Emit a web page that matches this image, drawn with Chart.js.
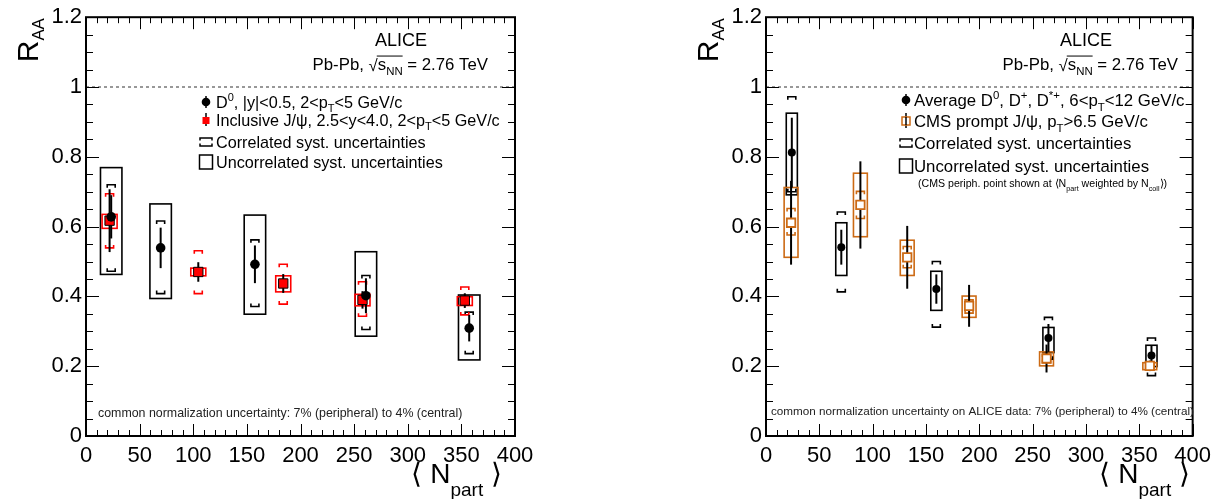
<!DOCTYPE html>
<html>
<head>
<meta charset="utf-8">
<script src="https://cdn.jsdelivr.net/npm/chart.js@4.4.1/dist/chart.umd.min.js"></script>
<style>
  html, body { margin: 0; padding: 0; background: #fff; }
  #wrap { position: relative; width: 1218px; height: 499px; }
  canvas { position: absolute; top: 0; }
  #left { left: 0; }
  #right { left: 609px; }
</style>
</head>
<body>
<div id="wrap">
  <canvas id="left" width="609" height="499"></canvas>
  <canvas id="right" width="609" height="499"></canvas>
</div>
<script>
const FONT = '"Liberation Sans", Arial, Helvetica, sans-serif';
const ORANGE = '#cc6a14';

// axis ticks (both panels)
const xTickValues = [0, 50, 100, 150, 200, 250, 300, 350, 400];
const yTickValues = [0, 0.2, 0.4, 0.6, 0.8, 1, 1.2];

// left panel: ALICE D0, 2<pT<5 GeV/c
const d0Npart = [23.5, 69.6, 157.5, 261, 357.3];
const d0Raa = [0.628, 0.539, 0.492, 0.402, 0.309];
const d0Stat = [0.062, 0.058, 0.054, 0.05, 0.038];
const d0UncLo = [0.463, 0.394, 0.349, 0.286, 0.218];
const d0UncHi = [0.769, 0.665, 0.633, 0.528, 0.404];
const d0CorLo = [0.472, 0.408, 0.371, 0.305, 0.236];
const d0CorHi = [0.72, 0.616, 0.562, 0.46, 0.355];

// left panel: ALICE inclusive J/psi, 2.5<y<4
const jpsiNpart = [22, 104.7, 183.9, 257.8, 353.2];
const jpsiRaa = [0.617, 0.47, 0.437, 0.39, 0.388];
const jpsiStat = [0.09, 0.028, 0.027, 0.025, 0.021];
const jpsiUncLo = [0.595, 0.459, 0.413, 0.373, 0.374];
const jpsiUncHi = [0.635, 0.481, 0.459, 0.406, 0.399];
const jpsiCorLo = [0.539, 0.408, 0.378, 0.343, 0.347];
const jpsiCorHi = [0.694, 0.531, 0.492, 0.442, 0.427];

// right panel: ALICE average D, 6<pT<12 GeV/c
const dAvgNpart = [24.2, 70.6, 159.7, 264.8, 361.4];
const dAvgRaa = [0.812, 0.541, 0.421, 0.281, 0.231];
const dAvgStat = [0.1, 0.05, 0.042, 0.04, 0.027];
const dAvgUncLo = [0.691, 0.46, 0.36, 0.239, 0.199];
const dAvgUncHi = [0.925, 0.611, 0.472, 0.311, 0.26];
const dAvgCorLo = [0.7, 0.413, 0.312, 0.22, 0.173];
const dAvgCorHi = [0.972, 0.642, 0.5, 0.34, 0.281];

// right panel: CMS prompt J/psi, pT>6.5 GeV/c
const cmsNpart = [23.5, 88.5, 132.4, 190.4, 263, 359.8];
const cmsRaa = [0.611, 0.662, 0.512, 0.373, 0.222, 0.201];
const cmsStat = [0.12, 0.125, 0.09, 0.06, 0.04, 0.015];
const cmsUncLo = [0.512, 0.571, 0.46, 0.34, 0.201, 0.19];
const cmsUncHi = [0.712, 0.753, 0.561, 0.401, 0.241, 0.21];
const cmsCorLo = [0.576, 0.623, 0.482, 0.352, 0.21, 0.195];
const cmsCorHi = [0.652, 0.701, 0.543, 0.39, 0.235, 0.207];

function richWidth(ctx, parts, size, ratio) {
  let w = 0;
  for (const [t, m] of parts) {
    ctx.font = (m ? size * (ratio || 0.68) : size) + 'px ' + FONT;
    w += ctx.measureText(t).width;
  }
  return w;
}

// parts: [text, 'sup' | 'sub' | undefined]
function drawRich(ctx, parts, x, y, size, align, subDrop, ratio) {
  ratio = ratio || 0.68;
  const w = richWidth(ctx, parts, size, ratio);
  let cx = align === 'right' ? x - w : align === 'center' ? x - w / 2 : x;
  ctx.textAlign = 'left';
  ctx.textBaseline = 'alphabetic';
  for (const [t, m] of parts) {
    const s = m ? size * ratio : size;
    ctx.font = s + 'px ' + FONT;
    const dy = m === 'sup' ? -size * 0.4 : m === 'sub' ? size * (subDrop || 0.3) : 0;
    ctx.fillText(t, cx, y + dy);
    cx += ctx.measureText(t).width;
  }
  return w;
}

function drawSqrtS(ctx, x, y, size, align) {
  // Pb-Pb, sqrt(s_NN) = 2.76 TeV with a radical bar over s_NN
  const pre = [['Pb-Pb, ']], rad = [['\u221A']], under = [['s'], ['NN', 'sub']], post = [[' = 2.76 TeV']];
  const total = [pre, rad, under, post].reduce((a, p) => a + richWidth(ctx, p, size), 0);
  let cx = align === 'right' ? x - total : x;
  ctx.fillStyle = '#000';
  cx += drawRich(ctx, pre, cx, y, size);
  cx += drawRich(ctx, rad, cx, y + 1, size);
  const x0 = cx;
  cx += drawRich(ctx, under, cx, y, size);
  ctx.strokeStyle = '#000';
  ctx.lineWidth = 1;
  ctx.beginPath();
  ctx.moveTo(x0 - 1, y - size * 0.83);
  ctx.lineTo(cx, y - size * 0.83);
  ctx.stroke();
  drawRich(ctx, post, cx, y, size);
}

function bracket(ctx, x, yTop, yBot, half, tick) {
  ctx.beginPath();
  ctx.moveTo(x - half, yTop + tick); ctx.lineTo(x - half, yTop); ctx.lineTo(x + half, yTop); ctx.lineTo(x + half, yTop + tick);
  ctx.moveTo(x - half, yBot - tick); ctx.lineTo(x - half, yBot); ctx.lineTo(x + half, yBot); ctx.lineTo(x + half, yBot - tick);
  ctx.stroke();
}

function decorPlugin(series, panel) {
  return {
    id: 'decor',
    beforeDatasetsDraw(chart) {
      const { ctx, chartArea: a, scales: { x, y } } = chart;
      ctx.save();
      // dashed line at R_AA = 1
      ctx.strokeStyle = '#333';
      ctx.lineWidth = 1;
      ctx.setLineDash([3, 3]);
      ctx.beginPath();
      ctx.moveTo(a.left, y.getPixelForValue(1));
      ctx.lineTo(a.right, y.getPixelForValue(1));
      ctx.stroke();
      ctx.setLineDash([]);
      // uncorrelated boxes
      for (const s of series) {
        ctx.strokeStyle = s.boxColor;
        ctx.lineWidth = 1.6;
        s.x.forEach((n, i) => {
          const l = x.getPixelForValue(n - s.boxHalf), r = x.getPixelForValue(n + s.boxHalf);
          const t = y.getPixelForValue(s.uncHi[i]), b = y.getPixelForValue(s.uncLo[i]);
          ctx.strokeRect(l, t, r - l, b - t);
        });
      }
      // correlated brackets
      for (const s of series) {
        ctx.strokeStyle = s.corColor;
        ctx.lineWidth = 1.6;
        s.x.forEach((n, i) => {
          bracket(ctx, x.getPixelForValue(n), y.getPixelForValue(s.corHi[i]), y.getPixelForValue(s.corLo[i]), 4, 3);
        });
      }
      // statistical error bars
      ctx.strokeStyle = '#000';
      ctx.lineWidth = 2;
      for (const s of series) {
        s.x.forEach((n, i) => {
          const px = x.getPixelForValue(n);
          ctx.beginPath();
          ctx.moveTo(px, y.getPixelForValue(s.y[i] + s.stat[i]));
          ctx.lineTo(px, y.getPixelForValue(s.y[i] - s.stat[i]));
          ctx.stroke();
        });
      }
      ctx.restore();
    },
    afterDraw(chart) {
      const { ctx, chartArea: a, scales: { x, y } } = chart;
      ctx.save();
      // frame and inward ticks (ROOT style)
      ctx.strokeStyle = '#000';
      ctx.lineWidth = 1;
      ctx.beginPath();
      for (let v = 0; v <= 1.2001; v += 0.05) {
        const major = Math.abs(v / 0.2 - Math.round(v / 0.2)) < 1e-6;
        const len = major ? 13 : 7;
        const py = Math.round(y.getPixelForValue(v)) + 0.5;
        ctx.moveTo(a.left, py); ctx.lineTo(a.left + len, py);
        ctx.moveTo(a.right, py); ctx.lineTo(a.right - len, py);
      }
      for (let v = 0; v <= 400.01; v += 10) {
        const len = v % 50 === 0 ? 12 : 6;
        const px = Math.round(x.getPixelForValue(v)) + 0.5;
        ctx.moveTo(px, a.bottom); ctx.lineTo(px, a.bottom - len);
        ctx.moveTo(px, a.top); ctx.lineTo(px, a.top + len);
      }
      ctx.stroke();
      ctx.lineWidth = 2;
      ctx.strokeRect(a.left, a.top, a.right - a.left, a.bottom - a.top);

      ctx.fillStyle = '#000';
      // axis titles
      drawRich(ctx, [['\u27E8 '], ['N'], ['part', 'sub'], [' \u27E9']], panel.xTitleRight, 483, 28, 'right', 0.48);
      ctx.save();
      ctx.translate(panel.yTitleX, a.top + 1);
      ctx.rotate(-Math.PI / 2);
      drawRich(ctx, [['R'], ['AA', 'sub']], 0, 0, 30, 'right', 0.2, 0.56);
      ctx.restore();

      // ALICE header
      ctx.font = '18px ' + FONT;
      ctx.textAlign = 'center';
      ctx.fillText('ALICE', panel.aliceX, 46);
      drawSqrtS(ctx, panel.energyRight, 70, 16.8, 'right');

      // legend
      const L = panel.legend;
      L.entries.forEach((e, i) => {
        const cy = L.rows[i];
        drawLegendIcon(ctx, e.icon, L.iconX, cy);
        ctx.fillStyle = '#000';
        drawRich(ctx, e.text, L.textX, cy + 5.5, L.size, 'left');
      });
      if (L.note) drawRich(ctx, L.note.text, L.note.x, L.note.y, L.note.size, 'left', 0.35);

      // normalisation note
      ctx.fillStyle = '#222';
      ctx.font = panel.norm.size + 'px ' + FONT;
      ctx.textAlign = 'left';
      ctx.fillText(panel.norm.text, panel.norm.x, panel.norm.y);
      ctx.restore();
    },
  };
}

function drawLegendIcon(ctx, icon, cx, cy) {
  ctx.save();
  ctx.lineWidth = 1.5;
  ctx.strokeStyle = '#000';
  if (icon === 'circle') {
    ctx.beginPath(); ctx.moveTo(cx, cy - 6); ctx.lineTo(cx, cy + 6); ctx.stroke();
    ctx.fillStyle = '#000';
    ctx.beginPath(); ctx.arc(cx, cy, 4.3, 0, Math.PI * 2); ctx.fill();
  } else if (icon === 'redsquare') {
    ctx.beginPath(); ctx.moveTo(cx, cy - 7); ctx.lineTo(cx, cy + 6); ctx.stroke();
    ctx.fillStyle = '#f00';
    ctx.fillRect(cx - 3.5, cy - 3, 7, 7);
  } else if (icon === 'opensquare') {
    ctx.beginPath(); ctx.moveTo(cx, cy - 8); ctx.lineTo(cx, cy + 7); ctx.stroke();
    ctx.fillStyle = '#fff';
    ctx.strokeStyle = ORANGE;
    ctx.fillRect(cx - 4, cy - 4, 8, 8);
    ctx.strokeRect(cx - 4, cy - 4, 8, 8);
    ctx.strokeStyle = '#000';
    ctx.beginPath(); ctx.moveTo(cx, cy - 4); ctx.lineTo(cx, cy + 4); ctx.stroke();
  } else if (icon === 'bracket') {
    bracket(ctx, cx, cy - 4, cy + 4, 6, 2.5);
  } else if (icon === 'box') {
    ctx.strokeRect(cx - 6.5, cy - 7, 13, 14);
  }
  ctx.restore();
}

function makePanel(canvasId, datasets, series, panel) {
  return new Chart(document.getElementById(canvasId), {
    type: 'scatter',
    data: { datasets },
    options: {
      responsive: false,
      animation: false,
      events: [],
      layout: { autoPadding: false, padding: { left: 0, right: panel.padRight, top: 12, bottom: 0 } },
      plugins: { legend: { display: false }, tooltip: { enabled: false } },
      scales: {
        x: {
          type: 'linear', min: 0, max: 400,
          afterBuildTicks: s => { s.ticks = xTickValues.map(v => ({ value: v })); },
          afterFit: s => { s.height = 63; },
          grid: { display: false, drawTicks: false },
          border: { display: false },
          ticks: { padding: 7, color: '#000', font: { family: FONT, size: 22 }, maxRotation: 0, autoSkip: false },
        },
        y: {
          type: 'linear', min: 0, max: 1.2,
          afterBuildTicks: s => { s.ticks = yTickValues.map(v => ({ value: v })); },
          afterFit: s => { s.width = panel.axisLeft; },
          grid: { display: false, drawTicks: false },
          border: { display: false },
          ticks: { padding: 4, color: '#000', font: { family: FONT, size: 22 }, autoSkip: false,
                   callback: v => String(Math.round(v * 10) / 10) },
        },
      },
    },
    plugins: [decorPlugin(series, panel)],
  });
}

const pts = (xs, ys) => xs.map((v, i) => ({ x: v, y: ys[i] }));

makePanel('left', [
  { label: 'D0', data: pts(d0Npart, d0Raa), pointStyle: 'circle', pointRadius: 4.8, backgroundColor: '#000', borderWidth: 0 },
  { label: 'J/psi', data: pts(jpsiNpart, jpsiRaa), pointStyle: 'rect', pointRadius: 6.6, backgroundColor: '#f00', borderColor: '#000', borderWidth: 1 },
], [
  { x: d0Npart, y: d0Raa, stat: d0Stat, uncLo: d0UncLo, uncHi: d0UncHi, corLo: d0CorLo, corHi: d0CorHi, boxHalf: 10, boxColor: '#000', corColor: '#000' },
  { x: jpsiNpart, y: jpsiRaa, stat: jpsiStat, uncLo: jpsiUncLo, uncHi: jpsiUncHi, corLo: jpsiCorLo, corHi: jpsiCorHi, boxHalf: 7, boxColor: '#f00', corColor: '#f00' },
], {
  axisLeft: 86, padRight: 94, yTitleX: 38, xTitleRight: 502, aliceX: 401, energyRight: 488,
  legend: {
    iconX: 206, textX: 216, size: 16.2, rows: [102, 120, 142, 162],
    entries: [
      { icon: 'circle', text: [['D'], ['0', 'sup'], [', |y|<0.5, 2<p'], ['T', 'sub'], ['<5 GeV/c']] },
      { icon: 'redsquare', text: [['Inclusive J/\u03C8, 2.5<y<4.0, 2<p'], ['T', 'sub'], ['<5 GeV/c']] },
      { icon: 'bracket', text: [['Correlated syst. uncertainties']] },
      { icon: 'box', text: [['Uncorrelated syst. uncertainties']] },
    ],
  },
  norm: { text: 'common normalization uncertainty: 7% (peripheral) to 4% (central)', x: 98, y: 417, size: 12.4 },
});

makePanel('right', [
  { label: 'D avg', data: pts(dAvgNpart, dAvgRaa), pointStyle: 'circle', pointRadius: 4, backgroundColor: '#000', borderWidth: 0 },
  { label: 'CMS J/psi', data: pts(cmsNpart, cmsRaa), pointStyle: 'rect', pointRadius: 6, backgroundColor: '#fff', borderColor: ORANGE, borderWidth: 1.8 },
], [
  { x: dAvgNpart, y: dAvgRaa, stat: dAvgStat, uncLo: dAvgUncLo, uncHi: dAvgUncHi, corLo: dAvgCorLo, corHi: dAvgCorHi, boxHalf: 5.2, boxColor: '#000', corColor: '#000' },
  { x: cmsNpart, y: cmsRaa, stat: cmsStat, uncLo: cmsUncLo, uncHi: cmsUncHi, corLo: cmsCorLo, corHi: cmsCorHi, boxHalf: 6.5, boxColor: ORANGE, corColor: ORANGE },
], {
  axisLeft: 157, padRight: 22, yTitleX: 109, xTitleRight: 581, aliceX: 477, energyRight: 569,
  legend: {
    iconX: 297, textX: 305, size: 16.8, rows: [100, 121, 143, 166],
    entries: [
      { icon: 'circle', text: [['Average D'], ['0', 'sup'], [', D'], ['+', 'sup'], [', D'], ['*+', 'sup'], [', 6<p'], ['T', 'sub'], ['<12 GeV/c']] },
      { icon: 'opensquare', text: [['CMS prompt J/\u03C8, p'], ['T', 'sub'], ['>6.5 GeV/c']] },
      { icon: 'bracket', text: [['Correlated syst. uncertainties']] },
      { icon: 'box', text: [['Uncorrelated syst. uncertainties']] },
    ],
    note: { x: 309, y: 187, size: 10.6,
            text: [['(CMS periph. point shown at \u27E8N'], ['part', 'sub'], [' weighted by N'], ['coll', 'sub'], ['\u27E9)']] },
  },
  norm: { text: 'common normalization uncertainty on ALICE data: 7% (peripheral) to 4% (central)', x: 162, y: 415, size: 11.7 },
});
</script>
</body>
</html>
